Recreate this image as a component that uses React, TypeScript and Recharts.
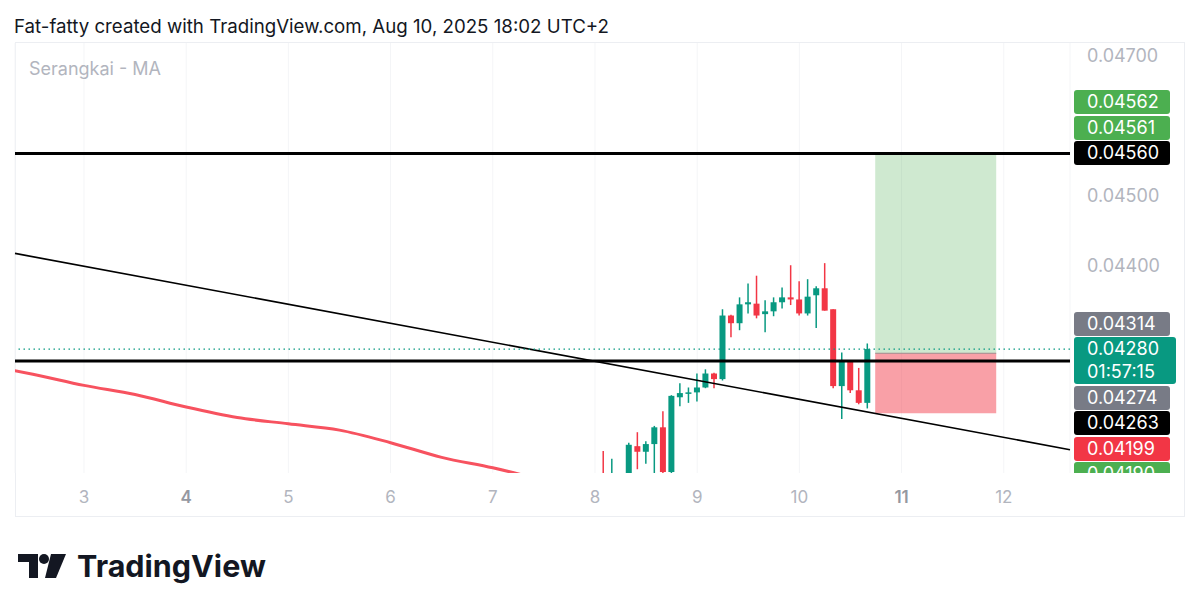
import React from 'react';
import { ComposedChart, Bar, Line, XAxis, YAxis, CartesianGrid, ReferenceLine, ReferenceArea } from 'recharts';

// 2h candles, time in days of the month
const candleTimes = [8.083, 8.167, 8.333, 8.417, 8.5, 8.583, 8.667, 8.75, 8.833, 8.917, 9.0, 9.083, 9.167, 9.25, 9.333, 9.417, 9.5, 9.583, 9.667, 9.75, 9.833, 9.917, 10.0, 10.083, 10.167, 10.25, 10.333, 10.417, 10.5, 10.583, 10.667];
const opens = [0.04098, 0.04085, 0.0409, 0.04141, 0.04133, 0.04144, 0.04168, 0.04104, 0.04211, 0.04217, 0.04218, 0.04225, 0.04245, 0.04237, 0.04328, 0.04317, 0.04344, 0.04345, 0.0433, 0.04334, 0.04347, 0.04354, 0.04351, 0.04331, 0.04357, 0.04367, 0.04337, 0.04227, 0.04263, 0.04221, 0.04203];
const highs = [0.04134, 0.04123, 0.04146, 0.04161, 0.04148, 0.0417, 0.04191, 0.04214, 0.04231, 0.04225, 0.04245, 0.04251, 0.04246, 0.04337, 0.04329, 0.04354, 0.04374, 0.04385, 0.0435, 0.04354, 0.04368, 0.044, 0.04377, 0.0438, 0.0437, 0.04403, 0.04337, 0.04275, 0.04263, 0.04253, 0.04288];
const lows = [0.04075, 0.04078, 0.04082, 0.04108, 0.04116, 0.04098, 0.04098, 0.04098, 0.04198, 0.04203, 0.04205, 0.04224, 0.04224, 0.04235, 0.04297, 0.04307, 0.04331, 0.04324, 0.04304, 0.04327, 0.04338, 0.04343, 0.04328, 0.04328, 0.0431, 0.04335, 0.04224, 0.0418, 0.04217, 0.04201, 0.04195];
const closes = [0.04088, 0.04095, 0.04143, 0.04133, 0.04144, 0.04168, 0.04104, 0.04213, 0.04217, 0.04218, 0.04225, 0.04245, 0.04237, 0.04328, 0.04317, 0.04344, 0.04347, 0.04328, 0.04334, 0.04347, 0.04354, 0.04351, 0.04331, 0.04355, 0.04367, 0.04335, 0.04227, 0.04263, 0.04221, 0.04203, 0.0428];

// moving average
const maTimes = [2.25, 2.5, 3.0, 3.5, 4.0, 4.5, 5.0, 5.5, 6.0, 6.5, 7.0, 7.5];
const maValues = [0.04251, 0.04244, 0.04228, 0.04215, 0.04197, 0.04182, 0.04173, 0.04164, 0.04146, 0.04125, 0.0411, 0.04092];

// drawings
const levels = [0.0456, 0.04263];
const lastPrice = 0.0428;
const trendStart = { x: 2.325, y: 0.04417 };
const trendEnd = { x: 12.648, y: 0.04136 };
const posStart = 10.742;
const posEnd = 11.926;
const posTarget = 0.0456;
const posEntry = 0.04274;
const posStop = 0.04188;

const dayTicks = [3, 4, 5, 6, 7, 8, 9, 10, 11, 12];
const boldDays = [4, 11];
// the other round levels sit under the price labels
const priceTicks = [0.044, 0.045, 0.047];

// price scale labels (stacked like TradingView does)
const upperLabels = ['0.04562', '0.04561', '0.04560'];
const upperColors = ['#4caf50', '#4caf50', '#000000'];
const upperAnchor = { value: 0.0456, index: 2 };
const lowerLabels = ['0.04314', '0.04280', '0.04274', '0.04263', '0.04199', '0.04190'];
const lowerColors = ['#787b86', '#089981', '#787b86', '#000000', '#f23645', '#4caf50'];
const lowerAnchor = { value: 0.0428, index: 1 };
const countdown = '01:57:15';

const X_DOMAIN: [number, number] = [2.325, 12.648];
const Y_DOMAIN: [number, number] = [0.041026, 0.047181];
const PLOT_TOP = 43;
const PLOT_BOTTOM = 473;
const PLOT_RIGHT = 1070;
const GREEN = '#089981';
const RED = '#f23645';
const FONT = 'Inter, "Noto Sans", sans-serif';

const data = candleTimes.map((t, i) => ({
  t,
  open: opens[i],
  high: highs[i],
  low: lows[i],
  close: closes[i],
  range: [lows[i], highs[i]],
}));
const maData = maTimes.map((t, i) => ({ t, ma: maValues[i] }));

const Candle = (props: any) => {
  const { x, y, width, height, payload } = props;
  const top = Math.min(y, y + height);
  const h = Math.abs(height);
  const { open, close, high, low } = payload;
  const color = close >= open ? GREEN : RED;
  const k = h / (high - low);
  const bodyTop = top + (high - Math.max(open, close)) * k;
  const bodyH = Math.max(1.5, Math.abs(close - open) * k);
  const cx = x + width / 2;
  return (
    <g>
      <line x1={cx} x2={cx} y1={top} y2={top + h} stroke={color} strokeWidth={1.5} />
      <rect x={x} y={bodyTop} width={width} height={bodyH} fill={color} />
    </g>
  );
};

const DayTick = (props: any) => {
  const { x, y, payload } = props;
  const bold = boldDays.includes(payload.value);
  return (
    <text x={x} y={y} dy="0.71em" textAnchor="middle" fontFamily={FONT} fontSize={17}
      fontWeight={bold ? 600 : 400} fill={bold ? '#9598a1' : '#b2b5be'}>
      {payload.value}
    </text>
  );
};

const priceToY = (v: number) =>
  PLOT_TOP + ((Y_DOMAIN[1] - v) / (Y_DOMAIN[1] - Y_DOMAIN[0])) * (PLOT_BOTTOM - PLOT_TOP);

const ROW = 25.5;
const BOX_H = 24;

const LabelStack = ({ labels, colors, anchor, doubleAt }: any) => {
  const anchorY = priceToY(anchor.value);
  // top of the anchor label box
  let y = anchorY - BOX_H / 2;
  const tops: number[] = [];
  for (let i = anchor.index - 1; i >= 0; i--) {
    y -= ROW;
    tops[i] = y;
  }
  y = anchorY - BOX_H / 2;
  for (let i = anchor.index; i < labels.length; i++) {
    tops[i] = y;
    y += i === doubleAt ? ROW + 23 : ROW;
  }
  return (
    <>
      {labels.map((txt: string, i: number) => {
        const dbl = i === doubleAt;
        return (
          <div key={txt + i} style={{
            position: 'absolute', left: 1074, top: tops[i], width: dbl ? 102 : 96,
            height: dbl ? BOX_H + 23 : BOX_H, background: colors[i], borderRadius: 3,
            color: '#fff', fontSize: 18, lineHeight: '24px', paddingLeft: 13, boxSizing: 'border-box',
          }}>
            <div>{txt}</div>
            {dbl && <div style={{ lineHeight: '22px' }}>{countdown}</div>}
          </div>
        );
      })}
    </>
  );
};

const Logo = () => (
  <div style={{ position: 'absolute', left: 18, top: 547, display: 'flex', alignItems: 'center' }}>
    <svg width={50} height={30} viewBox="0 0 50 30">
      <path d="M0 3 H20 V27 H11 V11 H0 Z" fill="#131722" />
      <circle cx={26} cy={8} r={5} fill="#131722" />
      <path d="M33 3 H48 L38 27 H27 Z" fill="#131722" />
    </svg>
    <span style={{ marginLeft: 9, fontSize: 30.5, fontWeight: 700, color: '#131722' }}>
      TradingView
    </span>
  </div>
);

export default function App() {
  return (
    <div style={{ position: 'absolute', left: 0, top: 0, width: 1200, height: 611, background: '#fff', fontFamily: FONT, overflow: 'hidden' }}>
      <div style={{ position: 'absolute', left: 14, top: 15, fontSize: 18.7, color: '#131722', whiteSpace: 'nowrap' }}>
        Fat-fatty created with TradingView.com, Aug 10, 2025 18:02 UTC+2
      </div>
      <div style={{ position: 'absolute', left: 15, top: 42, width: 1170, height: 475, border: '1px solid #eceef2', boxSizing: 'border-box' }} />
      <div style={{ position: 'absolute', left: 0, top: 0 }}>
        <ComposedChart width={1200} height={611} data={data}
          margin={{ top: PLOT_TOP, left: 15, right: 1200 - PLOT_RIGHT - 115, bottom: 611 - 517 }}>
          <CartesianGrid vertical horizontal={false} stroke="#f4f5f7" />
          <XAxis dataKey="t" type="number" domain={X_DOMAIN} allowDataOverflow ticks={dayTicks}
            height={44} axisLine={false} tickLine={false} tickMargin={12} tick={<DayTick />} />
          <YAxis type="number" orientation="right" domain={Y_DOMAIN} allowDataOverflow ticks={priceTicks}
            width={115} axisLine={false} tickLine={false} tickMargin={11}
            tickFormatter={(v: number) => v.toFixed(5)}
            tick={{ fill: '#b2b5be', fontSize: 18, fontFamily: FONT, textAnchor: 'start' }} />
          <ReferenceArea x1={posStart} x2={posEnd} y1={posEntry} y2={posTarget} fill="#4caf50" fillOpacity={0.27} stroke="none" />
          <ReferenceArea x1={posStart} x2={posEnd} y1={posStop} y2={posEntry} fill={RED} fillOpacity={0.47} stroke="none" />
          <ReferenceLine segment={[{ x: posStart, y: posEntry }, { x: posEnd, y: posEntry }]} stroke="#a08a8c" strokeWidth={1} />
          <ReferenceLine segment={[trendStart, trendEnd]} stroke="#000" strokeWidth={1.6} ifOverflow="visible" />
          {levels.map((lv) => (
            <ReferenceLine key={lv} y={lv} stroke="#000" strokeWidth={3} />
          ))}
          <ReferenceLine y={lastPrice} stroke={GREEN} strokeWidth={1.2} strokeDasharray="1.5 3.5" />
          <Line data={maData} dataKey="ma" type="monotone" stroke="#f7525f" strokeWidth={3} dot={false} isAnimationActive={false} />
          <Bar dataKey="range" barSize={6} shape={<Candle />} isAnimationActive={false} />
        </ComposedChart>
      </div>
      <div style={{ position: 'absolute', left: 29, top: 58, fontSize: 18, color: '#b2b5be' }}>Serangkai - MA</div>
      <div style={{ position: 'absolute', left: 0, top: 0, width: 1200, height: PLOT_BOTTOM, overflow: 'hidden' }}>
        <LabelStack labels={upperLabels} colors={upperColors} anchor={upperAnchor} doubleAt={-1} />
        <LabelStack labels={lowerLabels} colors={lowerColors} anchor={lowerAnchor} doubleAt={1} />
      </div>
      <Logo />
    </div>
  );
}
